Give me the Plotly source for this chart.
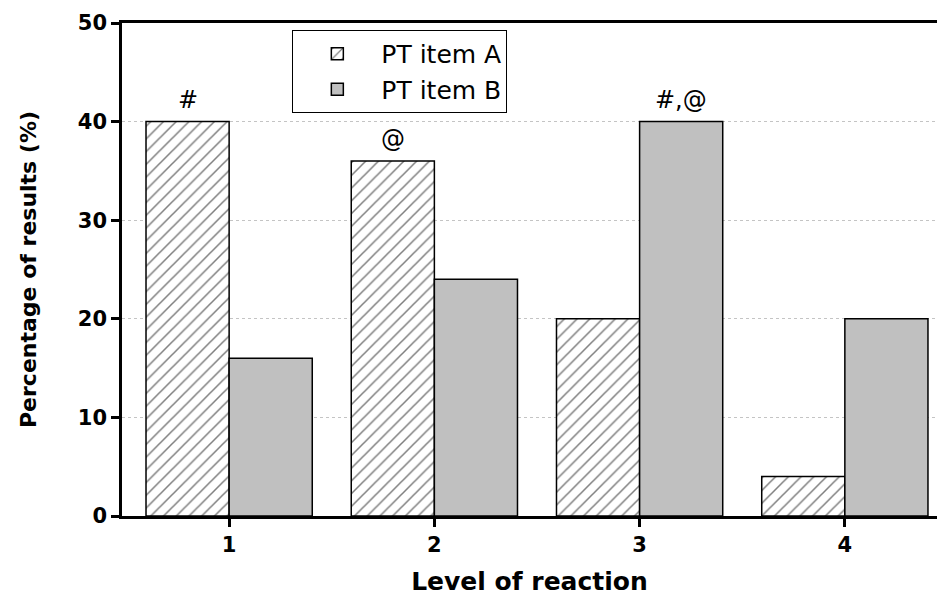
import plotly.graph_objects as go

levels = [1, 2, 3, 4]
item_a = [40, 36, 20, 4]
item_b = [16, 24, 40, 20]
series_names = ["PT item A", "PT item B"]
marks = [(0, 1, "#"), (0, 2, "@"), (1, 3, "#,@")]  # (series index, level, text)
y_ticks = [0, 10, 20, 30, 40, 50]

BOLD = "DejaVu Sans"
fig = go.Figure()
fig.add_trace(go.Bar(
    x=levels, y=item_a, name=series_names[0],
    marker=dict(color="white", line=dict(color="black", width=1.5),
                pattern=dict(shape="/", fgcolor="black", bgcolor="white", size=9, solidity=0.17)),
))
fig.add_trace(go.Bar(
    x=levels, y=item_b, name=series_names[1],
    marker=dict(color="#c0c0c0", line=dict(color="black", width=1.5)),
))

bargap = 0.19
half = (1 - bargap) / 4
vals = [item_a, item_b]
for s, lvl, txt in marks:
    idx = levels.index(lvl)
    xpos = lvl - half if s == 0 else lvl + half
    fig.add_annotation(x=xpos, y=vals[s][idx], text=txt, showarrow=False,
                       yanchor="bottom", yshift=6,
                       font=dict(family="DejaVu Sans", size=24, color="black"))

fig.update_layout(
    width=937, height=596,
    margin=dict(l=122, r=0, t=23, b=80, autoexpand=False),
    barmode="group", bargap=bargap, bargroupgap=0,
    plot_bgcolor="white", paper_bgcolor="white",
    font=dict(family="DejaVu Sans", color="black"),
    legend=dict(x=0.209, y=0.986, xanchor="left", yanchor="top",
                bordercolor="black", borderwidth=1, bgcolor="white",
                font=dict(size=25), tracegroupgap=0, itemwidth=78),
    xaxis=dict(range=[0.478, 4.449], tickvals=levels, ticktext=[str(v) for v in levels],
               automargin=False,
               showline=True, linecolor="black", linewidth=2.5, mirror=True,
               ticks="outside", ticklen=8, tickwidth=2.5, tickcolor="black",
               tickfont=dict(size=21, family=BOLD, weight="bold"),
               showgrid=False, zeroline=False,
               title=dict(text="<b>Level of reaction</b>", font=dict(size=25), standoff=25)),
    yaxis=dict(range=[0, 50], tickvals=y_ticks, automargin=False,
               showline=True, linecolor="black", linewidth=2.5,
               ticks="outside", ticklen=8, tickwidth=2.5, tickcolor="black",
               tickfont=dict(size=21, family=BOLD, weight="bold"),
               showgrid=True, gridcolor="#c4c4c4", griddash="dot", gridwidth=1,
               zeroline=False,
               title=dict(text="<b>Percentage of results (%)</b>", font=dict(size=22), standoff=36)),
)
fig.write_html("out.html", config={"displayModeBar": False},
               post_script="document.body.style.margin='0';document.body.style.overflow='hidden';")
